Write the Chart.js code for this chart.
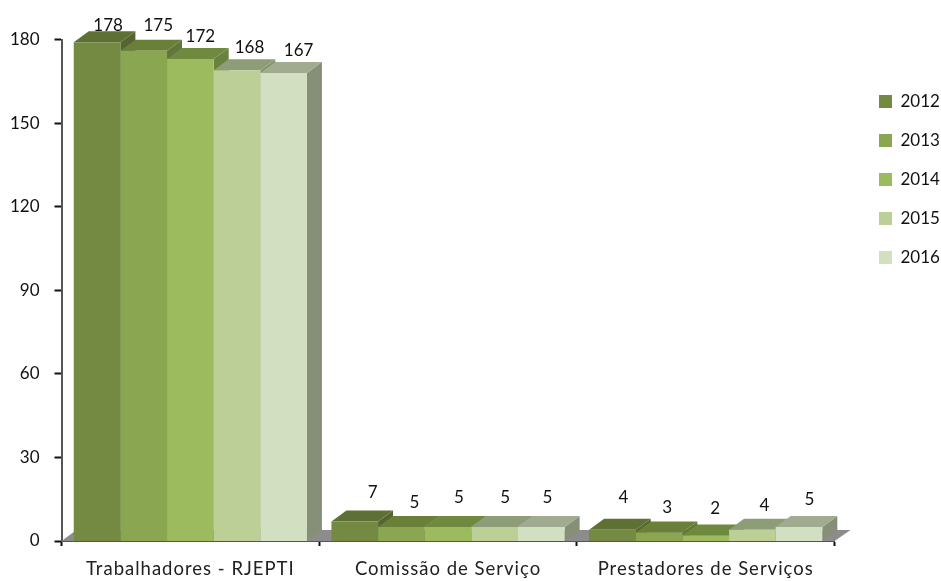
<!DOCTYPE html>
<html>
<head>
<meta charset="utf-8">
<style>
  html, body { margin: 0; padding: 0; background: #fff; }
  #wrap { width: 941px; height: 581px; }
</style>
<script src="https://cdn.jsdelivr.net/npm/chart.js@4"></script>
</head>
<body>
<div id="wrap"><canvas id="chart"></canvas></div>
<script>
// Data
const categories = ['Trabalhadores - RJEPTI', 'Comissão de Serviço', 'Prestadores de Serviços'];
const years = ['2012', '2013', '2014', '2015', '2016'];
const values2012 = [178, 7, 4];
const values2013 = [175, 5, 3];
const values2014 = [172, 5, 2];
const values2015 = [168, 5, 4];
const values2016 = [167, 5, 5];
const seriesValues = [values2012, values2013, values2014, values2015, values2016];

// Styling
const frontColors = ['#748a42', '#8aa650', '#9cbb5e', '#bbcf96', '#d2dfc0'];
const topColors = ['#5f7035', '#6a8038', '#6f8a3e', '#8d9d78', '#a0ab90'];
const sideColors = ['#566530', '#62753a', '#6a8240', '#85936f', '#868f78'];
const depthX = 15;
const depthY = 11;

// Where each value label sits relative to the top centre of its bar, by year then category
const labelNudge = [
    [[11, -17], [18, -29], [11, -32]],
    [[14.5, -25], [13, -24], [8, -25]],
    [[10, -23], [11, -29], [9.5, -27]],
    [[12.5, -23], [10.5, -29], [12, -24]],
    [[15, -23], [6, -29], [10.5, -27]]
];

function fillPoly(ctx, pts, color) {
    ctx.fillStyle = color;
    ctx.beginPath();
    pts.forEach((p, i) => i ? ctx.lineTo(p[0], p[1]) : ctx.moveTo(p[0], p[1]));
    ctx.closePath();
    ctx.fill();
}

// Floor, bar tops and bar sides go under the flat fronts the library draws
const box3d = {
    id: 'box3d',
    beforeDatasetsDraw(chart) {
        const ctx = chart.ctx;
        const area = chart.chartArea;
        fillPoly(ctx, [
            [area.left, area.bottom],
            [area.left + depthX, area.bottom - depthY],
            [area.right + depthX + 1, area.bottom - depthY],
            [area.right, area.bottom]
        ], '#8c8c8c');

        categories.forEach((cat, c) => {
            years.forEach((year, s) => {
                const bar = chart.getDatasetMeta(s).data[c];
                const l = bar.x - bar.width / 2;
                const r = bar.x + bar.width / 2;
                fillPoly(ctx, [
                    [r, bar.y], [r + depthX, bar.y - depthY],
                    [r + depthX, bar.base - depthY], [r, bar.base]
                ], sideColors[s]);
                fillPoly(ctx, [
                    [l, bar.y], [l + depthX, bar.y - depthY],
                    [r + depthX, bar.y - depthY], [r, bar.y]
                ], topColors[s]);
            });
        });
    },
    afterDatasetsDraw(chart) {
        const ctx = chart.ctx;
        ctx.save();
        ctx.font = '17px Lato';
        ctx.fillStyle = '#111';
        ctx.textAlign = 'center';
        ctx.textBaseline = 'middle';
        seriesValues.forEach((vals, s) => {
            chart.getDatasetMeta(s).data.forEach((bar, c) => {
                const nudge = labelNudge[s][c];
                ctx.fillText(vals[c], bar.x + nudge[0], bar.y + nudge[1]);
            });
        });
        ctx.restore();
        // category labels have z 1, so they are drawn next and pick this up
        ctx.letterSpacing = '1px';
    },
    afterDraw(chart) {
        chart.ctx.letterSpacing = '0px';
    }
};

// Legend sits high up on the right, not centred on the full height
const legendPlace = {
    id: 'legendPlace',
    afterLayout(chart) {
        const legend = chart.legend;
        legend.left = 879 - legend.options.labels.padding;
        legend.top = 71;
        legend.right = chart.width;
        legend.bottom = chart.height;
    }
};

new Chart(document.getElementById('chart').getContext('2d'), {
    type: 'bar',
    data: {
        labels: categories,
        datasets: years.map((year, s) => ({
            label: year,
            data: seriesValues[s],
            backgroundColor: frontColors[s],
            yAxisID: 'yBars',
            categoryPercentage: 0.905,
            barPercentage: 1
        }))
    },
    options: {
        responsive: true,
        maintainAspectRatio: false,
        animation: false,
        layout: { padding: { top: 39.5, right: 13.5, left: 0, bottom: 0 } },
        plugins: {
            tooltip: { enabled: false },
            legend: {
                position: 'right',
                align: 'start',
                labels: {
                    boxWidth: 13,
                    boxHeight: 13,
                    padding: 22,
                    color: '#111',
                    font: { family: 'Lato', size: 17 }
                }
            }
        },
        scales: {
            x: {
                grid: { drawOnChartArea: false, color: '#111', tickLength: 5, tickWidth: 2 },
                border: { color: '#555', width: 2 },
                ticks: {
                    color: '#222',
                    padding: 12,
                    maxRotation: 0,
                    z: 1,
                    font: { family: 'Lato', size: 18.5 }
                },
                afterFit(scale) { scale.height = 40; }
            },
            y: {
                min: 0,
                max: 180,
                grid: { drawOnChartArea: false, color: '#111', tickLength: 7, tickWidth: 2 },
                border: { color: '#555', width: 2 },
                ticks: {
                    stepSize: 30,
                    color: '#111',
                    padding: 15,
                    font: { family: 'Lato', size: 17 }
                },
                afterFit(scale) { scale.width = 61.5; }
            },
            // the fronts stand slightly forward of the axis, so they read a touch taller
            yBars: { display: false, min: 0, max: 179 }
        }
    },
    plugins: [box3d, legendPlace]
});
</script>
</body>
</html>
